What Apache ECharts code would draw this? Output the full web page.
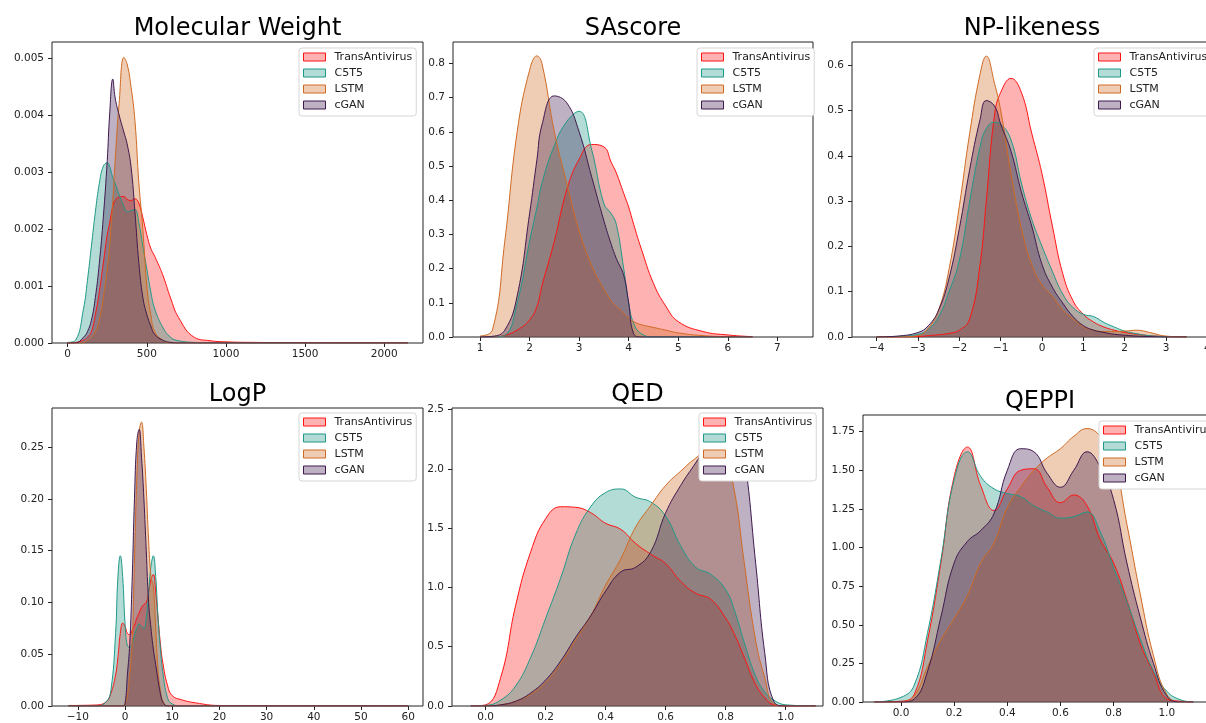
<!DOCTYPE html>
<html>
<head>
<meta charset="utf-8">
<title>Property distributions</title>
<script src="https://cdn.jsdelivr.net/npm/echarts@6/dist/echarts.min.js"></script>
<style>
  html, body { margin: 0; padding: 0; background: #fff; overflow: hidden; }
  /* a bit wider than the window: the right column is cut at the edge, as in the figure */
  #chart { width: 1230px; height: 723px; }
</style>
</head>
<body>
<div id="chart"></div>
<script>
// model names, same order in every panel
const seriesNames = ['TransAntivirus', 'C5T5', 'LSTM', 'cGAN'];

// Molecular Weight
const mwX = [0, 50, 100, 125, 150, 175, 200, 225, 250, 265, 285, 300, 325, 355, 375, 400, 425, 450, 475, 500, 525, 550, 600, 650, 700, 800, 900, 1000, 1200, 1500, 1800, 2150];
const mwTrans = [0, 0.00001, 0.00005, 0.0001, 0.0002, 0.0005, 0.0009, 0.0014, 0.0019, 0.0021, 0.0024, 0.0025, 0.00256, 0.00257, 0.00252, 0.0025, 0.00253, 0.00245, 0.0022, 0.0019, 0.00166, 0.00152, 0.0012, 0.00079, 0.00045, 0.0001, 0.00004, 0.00002, 0.00001, 0.000006, 0.000004, 0.000002];
const mwC5T5 = [0.00001, 0.00005, 0.0006, 0.0011, 0.0017, 0.0023, 0.0028, 0.0031, 0.00316, 0.0031, 0.0029, 0.0028, 0.0026, 0.0024, 0.0023, 0.00232, 0.00234, 0.0021, 0.0017, 0.0013, 0.0009, 0.0006, 0.00028, 0.0001, 0.00004, 0.00001, 0, 0, 0, 0, 0, 0];
const mwLstm = [0, 0, 0, 0.00005, 0.0001, 0.0002, 0.0004, 0.0008, 0.0013, 0.0017, 0.0025, 0.0032, 0.0042, 0.00501, 0.0049, 0.0045, 0.0039, 0.0028, 0.002, 0.001, 0.0005, 0.0002, 0.00005, 0, 0, 0, 0, 0, 0, 0, 0, 0];
const mwCgan = [0, 0, 0.0001, 0.0002, 0.0004, 0.0008, 0.0014, 0.0022, 0.0032, 0.004, 0.00463, 0.0043, 0.004, 0.0037, 0.0035, 0.0031, 0.0023, 0.0014, 0.0008, 0.0005, 0.0003, 0.00015, 0.00005, 0.00001, 0, 0, 0, 0, 0, 0, 0, 0];
const mwXTicks = [0, 500, 1000, 1500, 2000];
const mwYTicks = [0, 0.001, 0.002, 0.003, 0.004, 0.005];

// SAscore
const saX = [1, 1.25, 1.5, 1.75, 2, 2.15, 2.25, 2.5, 2.75, 3, 3.25, 3.5, 3.65, 3.75, 3.9, 4, 4.1, 4.25, 4.5, 4.75, 5, 5.5, 6, 6.5];
const saTrans = [0, 0, 0.005, 0.02, 0.05, 0.09, 0.15, 0.28, 0.43, 0.52, 0.563, 0.556, 0.51, 0.48, 0.42, 0.38, 0.33, 0.26, 0.157, 0.09, 0.045, 0.016, 0.006, 0.001];
const saC5T5 = [0, 0, 0.005, 0.1, 0.28, 0.38, 0.45, 0.56, 0.63, 0.66, 0.55, 0.39, 0.36, 0.33, 0.2, 0.1, 0.04, 0.01, 0, 0, 0, 0, 0, 0];
const saLstm = [0.003, 0.02, 0.28, 0.6, 0.78, 0.822, 0.8, 0.6, 0.45, 0.31, 0.21, 0.14, 0.105, 0.09, 0.07, 0.055, 0.045, 0.036, 0.028, 0.02, 0.012, 0.004, 0.001, 0];
const saCgan = [0, 0.002, 0.02, 0.12, 0.36, 0.52, 0.62, 0.705, 0.685, 0.6, 0.47, 0.34, 0.27, 0.23, 0.18, 0.1, 0.01, 0, 0, 0, 0, 0, 0, 0];
const saXTicks = [1, 2, 3, 4, 5, 6, 7];
const saYTicks = [0, 0.1, 0.2, 0.3, 0.4, 0.5, 0.6, 0.7, 0.8];

// NP-likeness
const npX = [-4, -3.5, -3, -2.75, -2.5, -2.25, -2, -1.75, -1.5, -1.35, -1.15, -1, -0.75, -0.5, -0.25, 0, 0.25, 0.5, 0.75, 1, 1.25, 1.5, 1.75, 2, 2.3, 2.6, 3, 3.5];
const npTrans = [0, 0, 0.001, 0.003, 0.005, 0.008, 0.015, 0.04, 0.16, 0.3, 0.49, 0.54, 0.571, 0.54, 0.45, 0.36, 0.245, 0.14, 0.08, 0.05, 0.033, 0.022, 0.015, 0.01, 0.006, 0.003, 0.001, 0];
const npC5T5 = [0, 0.001, 0.006, 0.017, 0.045, 0.1, 0.17, 0.3, 0.42, 0.46, 0.474, 0.47, 0.435, 0.34, 0.26, 0.2, 0.145, 0.095, 0.065, 0.05, 0.045, 0.032, 0.022, 0.013, 0.007, 0.003, 0.001, 0];
const npLstm = [0, 0, 0.003, 0.02, 0.06, 0.15, 0.29, 0.45, 0.58, 0.62, 0.56, 0.5, 0.36, 0.24, 0.16, 0.115, 0.09, 0.06, 0.04, 0.023, 0.015, 0.012, 0.012, 0.013, 0.015, 0.01, 0.002, 0];
const npCgan = [0, 0.002, 0.01, 0.025, 0.06, 0.13, 0.24, 0.37, 0.48, 0.522, 0.51, 0.47, 0.41, 0.32, 0.245, 0.16, 0.11, 0.075, 0.045, 0.025, 0.015, 0.01, 0.006, 0.004, 0.002, 0.001, 0, 0];
const npXTicks = [-4, -3, -2, -1, 0, 1, 2, 3, 4];
const npYTicks = [0, 0.1, 0.2, 0.3, 0.4, 0.5, 0.6];

// LogP
const lpX = [-12, -6, -4, -3, -2, -1.5, -1, -0.5, 0, 0.5, 1, 1.5, 2, 2.5, 3, 3.5, 4, 4.5, 5, 5.5, 6, 6.5, 7, 7.5, 8, 9, 10, 12, 15, 20, 60];
const lpTrans = [0.0005, 0.001, 0.004, 0.012, 0.03, 0.047, 0.07, 0.08, 0.077, 0.07, 0.069, 0.073, 0.078, 0.085, 0.09, 0.095, 0.098, 0.1, 0.11, 0.122, 0.127, 0.11, 0.085, 0.06, 0.042, 0.02, 0.01, 0.006, 0.003, 0.0005, 0];
const lpC5T5 = [0, 0, 0.004, 0.015, 0.07, 0.125, 0.145, 0.125, 0.08, 0.058, 0.057, 0.06, 0.068, 0.075, 0.079, 0.077, 0.075, 0.085, 0.11, 0.135, 0.145, 0.125, 0.085, 0.055, 0.033, 0.008, 0.002, 0, 0, 0, 0];
const lpLstm = [0, 0, 0, 0, 0, 0, 0, 0, 0.002, 0.01, 0.03, 0.06, 0.14, 0.22, 0.265, 0.274, 0.25, 0.21, 0.16, 0.125, 0.115, 0.075, 0.035, 0.015, 0.005, 0, 0, 0, 0, 0, 0];
const lpCgan = [0, 0, 0, 0, 0, 0, 0, 0, 0.002, 0.03, 0.06, 0.12, 0.2, 0.255, 0.267, 0.24, 0.2, 0.15, 0.1, 0.075, 0.055, 0.04, 0.025, 0.012, 0.004, 0, 0, 0, 0, 0, 0];
const lpXTicks = [-10, 0, 10, 20, 30, 40, 50, 60];
const lpYTicks = [0, 0.05, 0.1, 0.15, 0.2, 0.25];

// QED
const qedX = [-0.05, 0, 0.05, 0.1, 0.15, 0.2, 0.25, 0.3, 0.35, 0.4, 0.45, 0.5, 0.55, 0.6, 0.65, 0.7, 0.75, 0.8, 0.83, 0.86, 0.9, 0.93, 0.96, 1.0, 1.1];
const qedTrans = [0, 0.01, 0.24, 0.85, 1.3, 1.58, 1.68, 1.675, 1.63, 1.54, 1.49, 1.37, 1.28, 1.2, 1.05, 0.95, 0.9, 0.74, 0.6, 0.42, 0.18, 0.07, 0.01, 0, 0];
const qedC5T5 = [0, 0.005, 0.05, 0.17, 0.41, 0.74, 1.08, 1.45, 1.68, 1.8, 1.83, 1.76, 1.72, 1.6, 1.35, 1.17, 1.11, 0.98, 0.8, 0.55, 0.25, 0.12, 0.05, 0.01, 0];
const qedLstm = [0, 0, 0.01, 0.04, 0.1, 0.2, 0.36, 0.56, 0.76, 1.02, 1.24, 1.51, 1.69, 1.86, 1.98, 2.09, 2.17, 2.05, 1.8, 1.24, 0.55, 0.24, 0.02, 0, 0];
const qedCgan = [0, 0, 0.01, 0.04, 0.11, 0.22, 0.38, 0.58, 0.76, 0.97, 1.13, 1.17, 1.3, 1.63, 1.86, 2.05, 2.24, 2.37, 2.38, 2.13, 1.2, 0.45, 0.04, 0, 0];
const qedXTicks = [0, 0.2, 0.4, 0.6, 0.8, 1.0];
const qedYTicks = [0, 0.5, 1.0, 1.5, 2.0, 2.5];

// QEPPI
const qeX = [-0.1, 0, 0.05, 0.1, 0.15, 0.2, 0.25, 0.3, 0.35, 0.4, 0.45, 0.5, 0.55, 0.6, 0.65, 0.7, 0.75, 0.8, 0.85, 0.9, 0.95, 1.0, 1.05, 1.1];
const qeTrans = [0, 0.005, 0.05, 0.4, 0.9, 1.46, 1.65, 1.4, 1.24, 1.38, 1.5, 1.51, 1.39, 1.29, 1.34, 1.27, 1.05, 0.9, 0.66, 0.38, 0.19, 0.02, 0.005, 0];
const qeC5T5 = [0, 0.03, 0.11, 0.45, 0.92, 1.44, 1.62, 1.46, 1.38, 1.35, 1.33, 1.27, 1.23, 1.19, 1.2, 1.23, 1.1, 0.87, 0.65, 0.41, 0.2, 0.07, 0.015, 0];
const qeLstm = [0, 0, 0.04, 0.23, 0.4, 0.54, 0.69, 0.9, 1.03, 1.26, 1.39, 1.5, 1.58, 1.64, 1.72, 1.77, 1.72, 1.57, 1.15, 0.7, 0.3, 0.05, 0, 0];
const qeCgan = [0, 0, 0.02, 0.2, 0.55, 0.9, 1.04, 1.11, 1.22, 1.5, 1.64, 1.62, 1.48, 1.39, 1.5, 1.62, 1.52, 1.31, 0.9, 0.55, 0.25, 0.04, 0, 0];
const qeXTicks = [0, 0.2, 0.4, 0.6, 0.8, 1.0];
const qeYTicks = [0, 0.25, 0.5, 0.75, 1.0, 1.25, 1.5, 1.75];

const font = 'DejaVu Sans';
const lineColors = ['#ff1414', '#1f9987', '#cf6a24', '#3f1a4f'];
const fillColors = ['rgba(255,20,20,0.33)', 'rgba(31,153,135,0.34)', 'rgba(207,106,36,0.34)', 'rgba(63,26,79,0.34)'];

// layout of every panel: box = [left, top, width, height] in px
const panels = [
  { title: 'Molecular Weight', x: mwX, ys: [mwTrans, mwC5T5, mwLstm, mwCgan], xt: mwXTicks, yt: mwYTicks, xd: 0, yd: 3,
    box: [52, 42, 371, 301], xr: [-99, 2245], ymax: 0.00528, tTop: 17, leg: [299, 48] },
  { title: 'SAscore', x: saX, ys: [saTrans, saC5T5, saLstm, saCgan], xt: saXTicks, yt: saYTicks, xd: 0, yd: 1,
    box: [453, 42, 360, 295], xr: [0.455, 7.72], ymax: 0.8626, tTop: 17, leg: [697, 48] },
  { title: 'NP-likeness', x: npX, ys: [npTrans, npC5T5, npLstm, npCgan], xt: npXTicks, yt: npYTicks, xd: 0, yd: 1,
    box: [852, 42, 360, 295], xr: [-4.598, 4.112], ymax: 0.6512, tTop: 17, leg: [1094, 48] },
  { title: 'LogP', x: lpX, ys: [lpTrans, lpC5T5, lpLstm, lpCgan], xt: lpXTicks, yt: lpYTicks, xd: 0, yd: 2,
    box: [52, 408, 371, 301], xr: [-15.47, 63.13], ymax: 0.2876, tTop: 383, leg: [299, 413] },
  { title: 'QED', x: qedX, ys: [qedTrans, qedC5T5, qedLstm, qedCgan], xt: qedXTicks, yt: qedYTicks, xd: 1, yd: 1,
    box: [452, 408, 371, 301], xr: [-0.1123, 1.1243], ymax: 2.5125, tTop: 383, leg: [699, 413] },
  { title: 'QEPPI', x: qeX, ys: [qeTrans, qeC5T5, qeLstm, qeCgan], xt: qeXTicks, yt: qeYTicks, xd: 1, yd: 2,
    box: [863, 415, 354, 287], xr: [-0.143, 1.189], ymax: 1.858, tTop: 390, leg: [1099, 421] }
];

const fmt = (v, d) => v.toFixed(d).replace('-', '\u2212');

const option = {
  animation: false,
  backgroundColor: '#fff',
  title: panels.map(p => ({
    text: p.title, left: p.box[0] + p.box[2] / 2, top: p.tTop, textAlign: 'center', padding: 0,
    textStyle: { fontFamily: font, fontSize: 24, fontWeight: 'normal', color: '#000' }
  })),
  grid: panels.map(p => ({
    left: p.box[0], top: p.box[1], width: p.box[2], height: p.box[3],
    show: true, borderColor: '#222', borderWidth: 1, backgroundColor: 'transparent'
  })),
  xAxis: panels.map((p, i) => ({
    type: 'value', gridIndex: i, min: p.xr[0], max: p.xr[1],
    splitLine: { show: false }, axisLine: { show: false, onZero: false },
    axisTick: { show: true, customValues: p.xt, length: 4, lineStyle: { color: '#222' } },
    axisLabel: { customValues: p.xt, margin: 6, fontFamily: font, fontSize: 10.5, color: '#222',
      formatter: v => fmt(v, p.xd) }
  })),
  yAxis: panels.map((p, i) => ({
    type: 'value', gridIndex: i, min: 0, max: p.ymax,
    splitLine: { show: false }, axisLine: { show: false, onZero: false },
    axisTick: { show: true, customValues: p.yt, length: 4, lineStyle: { color: '#222' } },
    axisLabel: { customValues: p.yt, margin: 8, fontFamily: font, fontSize: 10.5, color: '#222',
      formatter: v => fmt(v, p.yd) }
  })),
  legend: panels.map(p => ({
    left: p.leg[0], top: p.leg[1], orient: 'vertical', selectedMode: false,
    itemWidth: 22, itemHeight: 8, itemGap: 4, padding: [3, 4, 5, 4],
    backgroundColor: '#fff', borderColor: '#d6d6d6', borderWidth: 1, borderRadius: 3,
    textStyle: { fontFamily: font, fontSize: 11, color: '#222', lineHeight: 12, padding: [0, 0, 0, 4] },
    data: seriesNames.map((n, j) => ({
      name: n, icon: 'rect',
      itemStyle: { color: fillColors[j], borderColor: lineColors[j], borderWidth: 1 },
      lineStyle: { width: 0, opacity: 0 }
    }))
  })),
  series: []
};

panels.forEach((p, i) => {
  p.ys.forEach((ys, j) => {
    option.series.push({
      type: 'line', name: seriesNames[j], xAxisIndex: i, yAxisIndex: i,
      data: p.x.map((xv, k) => [xv, ys[k]]),
      smooth: 0.45, showSymbol: false, symbol: 'none',
      silent: true, emphasis: { disabled: true },
      lineStyle: { width: 1, color: lineColors[j] },
      itemStyle: { color: lineColors[j] },
      areaStyle: { color: fillColors[j], opacity: 1 }
    });
  });
});

const chart = echarts.init(document.getElementById('chart'));
chart.setOption(option);
</script>
</body>
</html>
